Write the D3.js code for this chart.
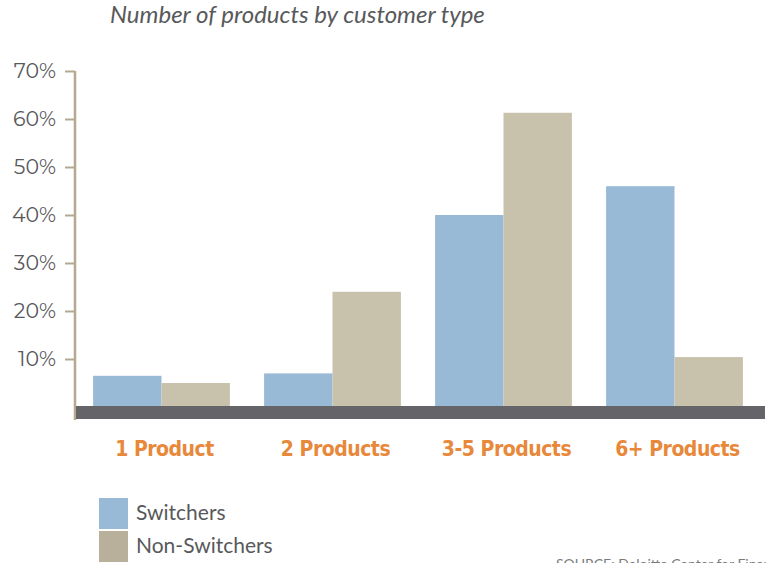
<!DOCTYPE html>
<html>
<head>
<meta charset="utf-8">
<script src="https://cdn.jsdelivr.net/npm/d3@7"></script>
<style>
  body { margin: 0; background: #fff; }
</style>
</head>
<body>
<div id="canvas"></div>
<script>
var w = 766;
var h = 563;

// data
var categories = ["1 Product", "2 Products", "3-5 Products", "6+ Products"];
var series = ["Switchers", "Non-Switchers"];
var switchers = [6.5, 7, 40, 46];
var nonSwitchers = [5, 24, 61.3, 10.4];
var yTicks = [10, 20, 30, 40, 50, 60, 70];

var barColors = ["#99bad6", "#c8c1ab"];
var legendColors = ["#99bad6", "#b8b09a"];

var rows = categories.map(function(c, i){
  return {cat: c, values: [switchers[i], nonSwitchers[i]]};
});

var svg = d3.select("#canvas").append("svg")
  .attr("width", w)
  .attr("height", h)
  .style("font-family", "Lato, 'Open Sans', sans-serif");

var x0 = d3.scaleBand()
  .domain(categories)
  .range([76, 760])
  .paddingInner(0.2)
  .paddingOuter(0.1);

var x1 = d3.scaleBand()
  .domain(series)
  .range([0, x0.bandwidth()]);

var y = d3.scaleLinear()
  .domain([0, 70])
  .range([407, 71]);

// title
svg.append("text")
  .attr("x", 110)
  .attr("y", 23)
  .text("Number of products by customer type")
  .style("font-style", "italic")
  .style("font-size", "24px")
  .attr("fill", "#58595b");

// bars
var groups = svg.selectAll("g.grp")
  .data(rows)
  .join("g")
  .attr("class", "grp")
  .attr("transform", function(d){ return "translate(" + x0(d.cat) + ",0)"; });

groups.selectAll("rect")
  .data(function(d){ return d.values.map(function(v, i){ return {s: series[i], v: v, i: i}; }); })
  .join("rect")
  .attr("x", function(d){ return x1(d.s); })
  .attr("y", function(d){ return y(d.v); })
  .attr("width", x1.bandwidth())
  .attr("height", function(d){ return y(0) - y(d.v); })
  .attr("fill", function(d){ return barColors[d.i]; });

// y axis
var yAxis = d3.axisLeft(y)
  .tickValues(yTicks)
  .tickSize(10)
  .tickPadding(9)
  .tickFormat(function(d){ return d + "%"; });

var ax = svg.append("g")
  .attr("transform", "translate(75,0)")
  .call(yAxis);
ax.select(".domain").remove();
ax.selectAll(".tick line").attr("stroke", "#b5a993").attr("stroke-width", 2);
ax.selectAll(".tick text")
  .attr("fill", "#58595b")
  .style("font-family", "Montserrat, 'Open Sans', sans-serif")
  .style("font-size", "20.5px");

svg.append("line")
  .attr("x1", 75).attr("x2", 75)
  .attr("y1", y(70)).attr("y2", 420)
  .attr("stroke", "#b5a993")
  .attr("stroke-width", 2.5);

// base bar
svg.append("rect")
  .attr("x", 76)
  .attr("y", y(0) - 1)
  .attr("width", 689)
  .attr("height", 13)
  .attr("fill", "#646469");

// category labels
svg.selectAll("text.cat")
  .data(categories)
  .join("text")
  .attr("class", "cat")
  .attr("x", function(d){ return x0(d) + x0.bandwidth() / 2 + 3; })
  .attr("y", 456)
  .attr("text-anchor", "middle")
  .text(function(d){ return d; })
  .style("font-family", "'Liberation Sans Narrow', 'DejaVu Sans Condensed', sans-serif")
  .style("font-weight", "bold")
  .style("font-size", "21px")
  .style("letter-spacing", "-0.5px")
  .attr("fill", "#e8883a");

// legend
var legend = svg.selectAll("g.leg")
  .data(series)
  .join("g")
  .attr("class", "leg")
  .attr("transform", function(d, i){ return "translate(99," + (498 + i * 33) + ")"; });

legend.append("rect")
  .attr("width", 29)
  .attr("height", 31)
  .attr("fill", function(d, i){ return legendColors[i]; });

legend.append("text")
  .attr("x", 37)
  .attr("y", 22)
  .text(function(d){ return d; })
  .style("font-size", "21px")
  .attr("fill", "#58595b");

// source (cut off at the bottom edge, as in the reference)
svg.append("text")
  .attr("x", 556)
  .attr("y", 569)
  .text("SOURCE: Deloitte Center for Financial Services")
  .style("font-size", "14px")
  .attr("fill", "#7a7a7d");
</script>
</body>
</html>
